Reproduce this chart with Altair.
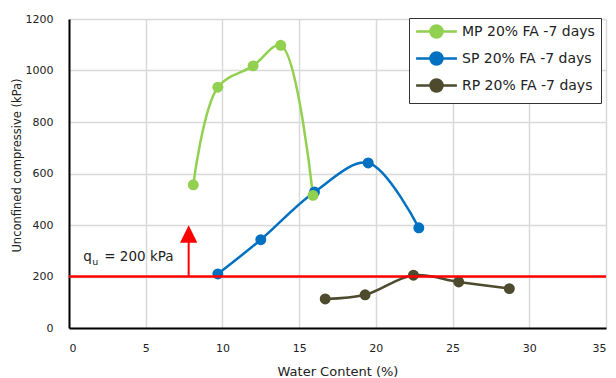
import altair as alt
import pandas as pd

# Data
mp_x = [8.1, 9.7, 12.0, 13.8, 15.9]
mp_y = [556, 935, 1018, 1098, 515]
sp_x = [9.7, 12.5, 16.0, 19.5, 22.8]
sp_y = [210, 343, 528, 641, 389]
rp_x = [16.7, 19.3, 22.45, 25.4, 28.7]
rp_y = [113, 129, 205, 179, 153]
series_names = ["MP 20% FA -7 days", "SP 20% FA -7 days", "RP 20% FA -7 days"]
series_colors = ["#92D050", "#0070C0", "#4D4A2E"]
threshold = 200
arrow_x = 7.8
arrow_shaft_top = 336
arrow_head_mid = 365
label_x = 0.93
label_y = 259

rows = []
for name, xs, ys in zip(series_names, [mp_x, sp_x, rp_x], [mp_y, sp_y, rp_y]):
    for i, (x, y) in enumerate(zip(xs, ys)):
        rows.append({"series": name, "x": x, "y": y, "order": i})
df = pd.DataFrame(rows)

font = "DejaVu Sans"
xscale = alt.Scale(domain=[0, 35], nice=False)
yscale = alt.Scale(domain=[0, 1200], nice=False)
color_scale = alt.Scale(domain=series_names, range=series_colors)

legend_path = "M-3.4,0H3.4M-1,0a1,1 0 1,0 2,0a1,1 0 1,0 -2,0"

base = alt.Chart(df).encode(
    x=alt.X("x:Q", scale=xscale, title="Water Content (%)",
            axis=alt.Axis(values=[0, 5, 10, 15, 20, 25, 30, 35], labelPadding=14,
                          tickSize=0, domainColor="black", domainWidth=2,
                          gridColor="#D9D9D9", gridWidth=1.5,
                          labelFont=font, labelFontSize=11, labelColor="#222",
                          titleFont=font, titleFontSize=13, titleFontWeight="normal",
                          titleColor="#222", titlePadding=12)),
    y=alt.Y("y:Q", scale=yscale, title="Unconfined compressive (kPa)",
            axis=alt.Axis(values=[0, 200, 400, 600, 800, 1000, 1200], labelPadding=16,
                          format="d",
                          tickSize=0, domainColor="black", domainWidth=2,
                          gridColor="#D9D9D9", gridWidth=1.5,
                          labelFont=font, labelFontSize=11, labelColor="#222",
                          titleFont=font, titleFontSize=11.5, titleFontWeight="normal",
                          titleColor="#222", titleX=-47, titleY=146)),
    color=alt.Color("series:N", scale=color_scale, sort=series_names,
                    legend=alt.Legend(title=None, orient="none", legendX=340, legendY=-1,
                                      symbolType=legend_path, symbolSize=144,
                                      symbolStrokeWidth=2.5, symbolOffset=14,
                                      labelFont=font,
                                      labelFontSize=14, labelColor="#222",
                                      fillColor="white", strokeColor="#333",
                                      padding=6, rowPadding=4, labelOffset=18)),
    order="order:Q",
)

lines = base.mark_line(interpolate="catmull-rom", strokeWidth=2.5)
points = base.mark_point(filled=True, size=120, opacity=1)

thr_df = pd.DataFrame({"y": [threshold]})
thr = alt.Chart(thr_df).mark_rule(color="#FF0000", strokeWidth=2.5).encode(y=alt.Y("y:Q", scale=yscale))

arrow_df = pd.DataFrame({"x": [arrow_x], "y": [threshold], "y2": [arrow_shaft_top], "ym": [arrow_head_mid]})
shaft = alt.Chart(arrow_df).mark_rule(color="#FF0000", strokeWidth=2).encode(
    x=alt.X("x:Q", scale=xscale), y=alt.Y("y:Q", scale=yscale), y2="y2:Q")
head = alt.Chart(arrow_df).mark_point(shape="M-1,1L0,-1L1,1Z", filled=True, color="#FF0000",
                                      size=300, opacity=1).encode(
    x=alt.X("x:Q", scale=xscale), y=alt.Y("ym:Q", scale=yscale))

lab_df = pd.DataFrame({"x": [label_x], "y": [label_y]})
t_q = alt.Chart(lab_df).mark_text(text="q", align="left", baseline="alphabetic", font=font,
                                  fontSize=13.5, color="#222").encode(
    x=alt.X("x:Q", scale=xscale), y=alt.Y("y:Q", scale=yscale))
t_u = alt.Chart(lab_df).mark_text(text="u", align="left", baseline="alphabetic", font=font,
                                  fontSize=9.5, color="#222", dx=9, dy=4).encode(
    x=alt.X("x:Q", scale=xscale), y=alt.Y("y:Q", scale=yscale))
t_rest = alt.Chart(lab_df).mark_text(text="= 200 kPa", align="left", baseline="alphabetic",
                                     font=font, fontSize=13.5, color="#222", dx=21).encode(
    x=alt.X("x:Q", scale=xscale), y=alt.Y("y:Q", scale=yscale))

chart = alt.layer(lines, points, thr, shaft, head, t_q, t_u, t_rest).properties(
    width=537, height=309,
    autosize=alt.AutoSizeParams(type="none"),
    padding={"left": 69, "top": 19, "right": 10, "bottom": 50},
).configure_view(stroke="#222", strokeWidth=1.2).configure(background="white")

chart.save("out.html", embed_options={"renderer": "svg", "actions": False})
